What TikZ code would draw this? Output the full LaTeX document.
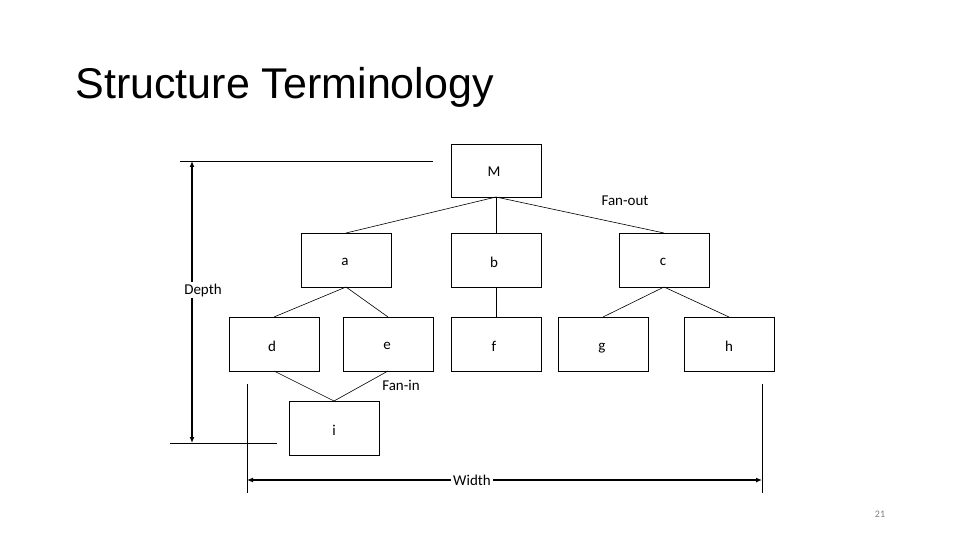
\documentclass[tikz,border=0pt]{standalone}
\usepackage{fontspec}
\setmainfont{Carlito}
\newfontfamily\titlefont{Liberation Sans}
\usetikzlibrary{arrows.meta}
\begin{document}
\begin{tikzpicture}[x=1pt,y=-1pt,
  box/.style={draw,line width=0.8pt},
  lbl/.style={font=\fontsize{15}{17}\selectfont},
  edge/.style={line width=0.6pt},
  dim/.style={line width=0.8pt},
  dimarrow/.style={line width=2pt,{Latex[length=6pt,width=5pt]}-{Latex[length=6pt,width=5pt]}}]
\useasboundingbox (0,0) rectangle (960,540);
\node[anchor=base west,font=\titlefont\fontsize{43}{50}\selectfont] (title) at (72,99) {Structure Terminology};
% boxes
\draw[box] (451,144) rectangle (541,197) coordinate (Mbr);
\coordinate (Mb) at (496,197);
\node[lbl] (M) at (494,172) {M};
\foreach \n/\x/\y/\lx/\ly in {a/301/233/345/262, b/451/233/494/262, c/619/233/663/262,
   d/229/317/272/346, e/343/317/387/346, f/451/317/494/346, g/558/317/602/348, h/684/317/729/346, i/289/401/334/430}{
  \draw[box] (\x,\y) rectangle ++(90,54);
  \coordinate (\n t) at (\x+45,\y);
  \coordinate (\n b) at (\x+45,\y+54);
  \node[lbl] (\n) at (\lx,\ly) {\n};
}
% edges
\draw[edge] (Mb) -- (at);
\draw[edge] (Mb) -- (bt);
\draw[edge] (Mb) -- (ct);
\draw[edge] (ab) -- (dt);
\draw[edge] (ab) -- (et);
\draw[edge] (bb) -- (ft);
\draw[edge] (cb) -- (gt);
\draw[edge] (cb) -- (ht);
\draw[edge] (db) -- (it);
\draw[edge] (eb) -- (it);
\node[lbl] (fanout) at (625,201) {Fan-out};
\node[lbl] (fanin) at (401,385) {Fan-in};
% depth
\coordinate (d1a) at (180,161); \coordinate (d1b) at (433,161);
\coordinate (d2a) at (170,443); \coordinate (d2b) at (277,443);
\draw[dim] (d1a) -- (d1b);
\draw[dim] (d2a) -- (d2b);
\coordinate (dtop) at (192,161); \coordinate (dbot) at (192,443);
\node[lbl,fill=white,inner sep=1pt] (depth) at (203,290) {Depth};
\draw[line width=2pt,-{Latex[length=6pt,width=5pt]}] (depth.north -| dtop) -- (dtop);
\draw[line width=2pt,-{Latex[length=6pt,width=5pt]}] (depth.south -| dbot) -- (dbot);
% width
\coordinate (w1a) at (247,384); \coordinate (w1b) at (247,493);
\coordinate (w2a) at (762,384); \coordinate (w2b) at (762,493);
\draw[dim] (w1a) -- (w1b);
\draw[dim] (w2a) -- (w2b);
\node[lbl,inner sep=2pt] (width) at (472,480) {Width};
\coordinate (wl) at (247,480); \coordinate (wr) at (762,480);
\draw[line width=2pt,-{Latex[length=6pt,width=5pt]}] (width.west) -- (wl);
\draw[line width=2pt,-{Latex[length=6pt,width=5pt]}] (width.east) -- (wr);
\node[font=\fontsize{10}{12}\selectfont,text=gray] (pg) at (880,514) {21};
\end{tikzpicture}
\end{document}
